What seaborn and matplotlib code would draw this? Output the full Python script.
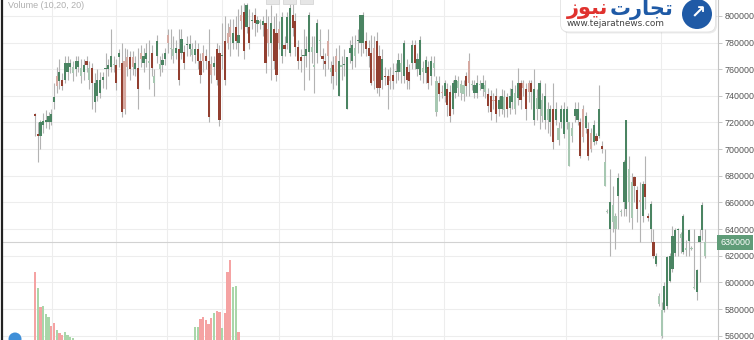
import numpy as np
import pandas as pd
import matplotlib
matplotlib.use("Agg")
import matplotlib.pyplot as plt
import matplotlib.patches as mpatches
from matplotlib.ticker import FuncFormatter
import seaborn as sns

# ---------------- data (prices in thousands) ----------------
opens = [
    726, 711, 710, 718, 720, 720, 720, 735, 755, 751,
    752, 752, 758, 762, 757, 760, 762, 755, 758, 766,
    752, 761, 735, 740, 742, 752, 760, 760, 762, 763,
    763, 769, 765, 766, 769, 769, 769, 760, 761, 772,
    765, 768, 765, 772, 750, 770, 760, 763, 768, 786,
    775, 770, 772, 775, 772, 773, 778, 775, 771, 771,
    775, 766, 772, 770, 766, 764, 762, 775, 772, 770,
    781, 787, 792, 780, 792, 780, 801, 803, 792,
    792, 796, 801, 794, 795, 793, 795, 790, 780, 790,
    787, 790, 770, 778, 780, 772, 801, 796, 777, 769,
    770, 770, 773, 773, 762, 772, 781, 770, 766, 781,
    758, 763, 770, 740, 762, 763, 730, 772, 766, 770,
    781, 780, 780, 781, 776, 772, 776, 781, 770, 752,
    755, 755, 755, 756, 758, 758, 758, 755, 762, 758,
    765, 778, 760, 756, 758, 757, 762, 755, 761, 728,
    750, 743, 740, 745, 743, 730, 742, 746, 742, 741,
    755, 766, 748, 742, 742, 748, 745, 743, 741, 740,
    737, 740,
    730, 730, 729, 739, 731, 735, 730, 738, 750, 750,
    745, 750, 750, 722, 730, 730, 725, 722, 722, 720,
    730, 722, 707, 720, 711, 720, 687, 710, 725, 722,
    720, 730, 716, 715, 712, 705, 710, 710, 702, 672,
    653, 640, 645, 640, 665, 653, 660, 655, 660, 648,
    679, 669, 662, 650, 674, 650, 640, 630, 614, 584,
    560, 579, 582, 601, 610, 622, 639, 633, 623, 624,
    631, 625, 596, 593, 630, 639, 620,
]
highs = [
    727, 720, 722, 727, 729, 728, 730, 750, 762, 768,
    757, 770, 770, 768, 766, 770, 770, 768, 768, 770,
    766, 765, 757, 760, 758, 758, 772, 768, 790, 770,
    768, 775, 780, 776, 775, 774, 774, 770, 776, 778,
    776, 780, 782, 778, 760, 786, 770, 772, 776, 790,
    790, 785, 782, 790, 790, 778, 785, 786, 780, 782,
    780, 772, 778, 775, 790, 770, 770, 780, 778, 795,
    800, 795, 798, 798, 800, 805, 808, 810, 810,
    805, 803, 806, 800, 798, 800, 805, 800, 808, 800,
    802, 796, 803, 785, 803, 809, 809, 802, 782, 775,
    790, 785, 803, 785, 785, 798, 790, 776, 772, 790,
    766, 770, 776, 778, 770, 775, 769, 782, 785, 786,
    790, 801, 803, 788, 782, 786, 785, 788, 778, 775,
    762, 760, 762, 765, 765, 772, 772, 782, 768, 764,
    782, 782, 772, 785, 766, 770, 766, 770, 770, 755,
    755, 748, 752, 750, 748, 752, 756, 755, 752, 752,
    758, 772, 752, 752, 756, 752, 756, 752, 746, 744,
    742, 746,
    740, 745, 744, 742, 746, 752, 748, 761, 752, 752,
    750, 752, 752, 760, 745, 752, 742, 750, 735, 733,
    750, 735, 720, 733, 735, 732, 720, 720, 735, 735,
    723, 733, 728, 720, 716, 722, 712, 748, 706, 700,
    655, 685, 672, 652, 682, 655, 692, 722, 695, 682,
    680, 672, 675, 676, 695, 652, 661, 640, 622, 592,
    585, 600, 620, 622, 642, 641, 641, 638, 651, 632,
    640, 627, 640, 610, 640, 660, 640,
]
lows = [
    710, 690, 700, 712, 716, 715, 718, 730, 742, 745,
    744, 750, 752, 757, 751, 755, 758, 750, 752, 758,
    745, 730, 728, 736, 738, 746, 745, 755, 758, 758,
    744, 762, 724, 726, 755, 752, 756, 755, 730, 762,
    758, 762, 745, 755, 740, 765, 755, 758, 763, 772,
    768, 765, 768, 748, 768, 760, 770, 770, 766, 765,
    760, 750, 758, 760, 720, 750, 756, 748, 717, 760,
    748, 775, 770, 775, 775, 770, 790, 768, 787,
    775, 790, 785, 788, 790, 785, 757, 770, 752, 760,
    751, 775, 765, 770, 775, 770, 785, 770, 760, 758,
    744, 762, 752, 765, 742, 765, 770, 760, 755, 760,
    750, 745, 748, 740, 752, 755, 730, 765, 760, 762,
    772, 770, 772, 770, 762, 748, 745, 742, 740, 745,
    748, 730, 745, 745, 750, 752, 750, 750, 745, 745,
    760, 760, 755, 752, 750, 750, 745, 748, 755, 725,
    736, 738, 735, 725, 720, 726, 738, 740, 737, 736,
    740, 740, 744, 738, 738, 744, 740, 738, 728, 722,
    730, 720,
    725, 726, 724, 724, 726, 730, 726, 733, 730, 740,
    722, 735, 730, 718, 722, 715, 720, 715, 712, 710,
    700, 718, 703, 716, 708, 715, 687, 705, 720, 718,
    693, 705, 712, 692, 698, 703, 704, 708, 697, 672,
    652, 620, 638, 625, 640, 650, 650, 650, 645, 640,
    660, 645, 630, 645, 655, 646, 630, 618, 612, 582,
    558, 578, 580, 600, 608, 620, 620, 622, 621, 620,
    620, 624, 595, 587, 600, 632, 618,
]
closes = [
    725, 710, 720, 721, 722, 725, 726, 739, 747, 758,
    747, 765, 765, 765, 762, 766, 766, 761, 763, 763,
    761, 750, 750, 752, 752, 754, 760, 763, 770, 763,
    750, 772, 728, 730, 762, 760, 762, 765, 745, 768,
    770, 772, 765, 761, 755, 781, 764, 767, 772, 780,
    776, 775, 776, 752, 783, 765, 778, 779, 775, 775,
    766, 756, 766, 766, 724, 756, 765, 752, 722, 770,
    752, 780, 784, 787, 781, 786, 796, 774, 808,
    780, 797, 795, 797, 795, 796, 765, 780, 795, 766,
    756, 780, 799, 775, 799, 806, 791, 777, 766, 766,
    770, 775, 801, 777, 762, 795, 781, 768, 764, 770,
    761, 755, 758, 766, 762, 764, 769, 776, 778, 776,
    781, 801, 801, 775, 770, 750, 751, 746, 746, 768,
    754, 748, 751, 751, 758, 767, 765, 780, 752, 751,
    778, 765, 768, 782, 761, 767, 750, 766, 765, 751,
    741, 742, 750, 733, 725, 750, 752, 751, 749, 748,
    747, 750, 748, 748, 750, 748, 750, 748, 732, 728,
    736, 726,
    737, 740, 739, 730, 740, 745, 742, 750, 737, 746,
    730, 743, 743, 745, 738, 750, 737, 740, 730, 730,
    705, 730, 716, 730, 730, 730, 720, 716, 730, 730,
    695, 709, 725, 695, 700, 718, 706, 730, 700, 690,
    653, 660, 658, 650, 678, 653, 690, 722, 685, 675,
    672, 655, 660, 674, 664, 648, 659, 620, 620, 590,
    579, 597, 619, 620, 635, 639, 639, 636, 650, 626,
    639, 625, 596, 609, 635, 658, 630,
]
last_price = 630

# volume (two visible clusters), start candle index + values + up/down flag
vol1_start = 0
vol1 = [68, 52, 33, 34, 26, 23, 14, 17, 10, 7, 5, 8, 5, 3, 2]
vol1_up = [0, 1, 0, 1, 1, 1, 0, 0, 1, 0, 0, 1, 1, 1, 1]
vol2_start = 59
vol2 = [13, 13, 21, 23, 20, 16, 22, 27, 29, 28, 12, 27, 68, 80, 53, 54, 8]
vol2_up = [1, 1, 0, 0, 0, 0, 0, 1, 0, 0, 1, 0, 0, 0, 1, 1, 0]

# vertical grid (month boundaries) in candle index units
grid_idx = [6.3, 30, 48.7, 69, 90, 109.6, 131.7, 150.6, 195.6, 230.6]
y_ticks = [560, 580, 600, 620, 640, 660, 680, 700, 720, 740, 760, 780, 800]

# ---------------- style ----------------
sns.set_theme(style="white")
plt.rcParams['font.family'] = ['Liberation Sans', 'DejaVu Sans']

W, H = 754, 340
fig = plt.figure(figsize=(W / 100, H / 100), dpi=100)
ax = fig.add_axes([2 / W, 0, 716 / W, 1])
ax2 = ax.twinx()          # volume overlay (created first so ax keeps right ticks)

o = np.array(opens, float)
h = np.array(highs, float)
l = np.array(lows, float)
c = np.array(closes, float)
n = len(c)
idx = np.arange(n)

up = c >= o
prev = np.r_[c[0], c[:-1]]
light = (up & (c < prev)) | (~up & (c > prev))
G_DARK, G_LIGHT = "#4a8462", "#a7c8b2"
R_DARK, R_LIGHT = "#923f30", "#d6aaa2"
cols = [(G_LIGHT if lt else G_DARK) if u else (R_LIGHT if lt else R_DARK)
        for u, lt in zip(up, light)]

ax.vlines(idx, l, h, color="#b3b3b3", lw=0.8, zorder=2)
ax.bar(idx, np.maximum(np.abs(c - o), 0.8), bottom=np.minimum(o, c),
       width=0.8, color=cols, linewidth=0, zorder=3)

ax.axhline(last_price, color="#d2d2d2", lw=0.8, zorder=1)

# limits
px_per = 670 / (n - 1)
xmin = -33 / px_per
xmax = xmin + 716 / px_per
ax.set_xlim(xmin, xmax)
ax.set_ylim(556.8, 811.9)

ax.set_xticks(grid_idx)
ax.tick_params(axis="x", length=0, labelbottom=False)
ax.set_yticks(y_ticks)
ax.yaxis.tick_right()
ax.yaxis.set_label_position("right")
ax.yaxis.set_major_formatter(FuncFormatter(lambda v, p: f"{int(round(v * 1000))}"))
ax.tick_params(axis="y", which="both", left=False, labelleft=False, right=True,
               labelright=True, length=3, width=0.6, color="#bdbdbd",
               labelsize=6.4, labelcolor="#555555", pad=2)
ax.grid(True, color="#ededed", lw=0.8)
ax.set_axisbelow(True)
for s in ("top", "bottom"):
    ax.spines[s].set_visible(False)
ax.spines["left"].set_color("#222222")
ax.spines["left"].set_linewidth(1.6)
ax.spines["right"].set_color("#c4c4c4")
ax.spines["right"].set_linewidth(0.8)

ax.text(1.003, last_price, f"{last_price * 1000}", transform=ax.get_yaxis_transform(),
        ha="left", va="center", color="white", fontsize=6.4, zorder=20, clip_on=False,
        bbox=dict(boxstyle="square,pad=0.3", fc="#5f9c78", ec="none"))

# ---------------- volume ----------------
v_idx = list(range(vol1_start, vol1_start + len(vol1))) + \
        list(range(vol2_start, vol2_start + len(vol2)))
v_val = vol1 + vol2
v_dir = ["up" if u else "down" for u in vol1_up + vol2_up]
vdf = pd.DataFrame({"idx": v_idx, "vol": v_val, "dir": v_dir})
sns.barplot(data=vdf, x="idx", y="vol", hue="dir",
            palette={"up": "#a9d6a9", "down": "#f5a3a3"},
            native_scale=True, width=0.85, saturation=1, errorbar=None,
            legend=False, ax=ax2, linewidth=0)
ax2.set_ylim(0, H)
ax2.set_xlim(xmin, xmax)
ax2.set_yticks([])
ax2.tick_params(axis="y", left=False, right=False, labelleft=False, labelright=False)
ax2.set_xlabel("")
ax2.set_ylabel("")
for s in ax2.spines.values():
    s.set_visible(False)

# ---------------- decorations ----------------
ax.text(0.008, 0.997, "Volume (10,20, 20)", transform=ax.transAxes, ha="left",
        va="top", fontsize=6.5, color="#b0b0b0")
for k in range(3):
    fig.add_artist(mpatches.Rectangle(((266 + k * 17) / W, 1 - 4 / H), 13 / W, 8 / H,
                                      transform=fig.transFigure, fc="#e6e6e6",
                                      ec="#d0d0d0", lw=0.5))
fig.add_artist(mpatches.Circle((0.15, 0.01), 0.065, transform=fig.dpi_scale_trans,
                               fc="#3f8fd8", ec="none"))

# logo box
shadow = mpatches.FancyBboxPatch((5.62, 3.40 - 0.335), 1.55, 0.45,
                                 boxstyle="round,pad=0,rounding_size=0.08",
                                 transform=fig.dpi_scale_trans, fc="#000000",
                                 alpha=0.08, ec="none", zorder=9)
box = mpatches.FancyBboxPatch((5.605, 3.40 - 0.32), 1.55, 0.45,
                              boxstyle="round,pad=0,rounding_size=0.08",
                              transform=fig.dpi_scale_trans, fc="white",
                              ec="#e2e2e2", lw=0.6, zorder=10)
fig.add_artist(shadow)
fig.add_artist(box)
fig.add_artist(mpatches.Circle((6.97, 3.40 - 0.14), 0.15, transform=fig.dpi_scale_trans,
                               fc="#1f5aa6", ec="none", zorder=11))
fig.text(6.985 / 7.54, 1 - 0.135 / 3.40, "\u2197", ha="center", va="center",
         fontsize=13, color="white", fontweight="bold", zorder=12,
         family=["DejaVu Sans"])
# "تجارت نیوز" written in presentation forms, visual order
fig.text(610 / W, 1 - 9 / H, "\uFE95\uFEAD\uFE8E\uFEA0\uFE97", ha="left", va="center",
         fontsize=15, color="#1f5aa6", fontweight="bold", zorder=12,
         family=["DejaVu Sans"])
fig.text(608 / W, 1 - 9 / H, "\uFEAF\uFEEE\uFEF4\uFEE7", ha="right", va="center",
         fontsize=15, color="#e0322e", fontweight="bold", zorder=12,
         family=["DejaVu Sans"])
fig.text(567 / W, 1 - 23 / H, "www.tejaratnews.com", ha="left", va="center",
         fontsize=6.4, color="#444444", zorder=12, family=["DejaVu Sans"])

fig.savefig("out.png", dpi=100)
